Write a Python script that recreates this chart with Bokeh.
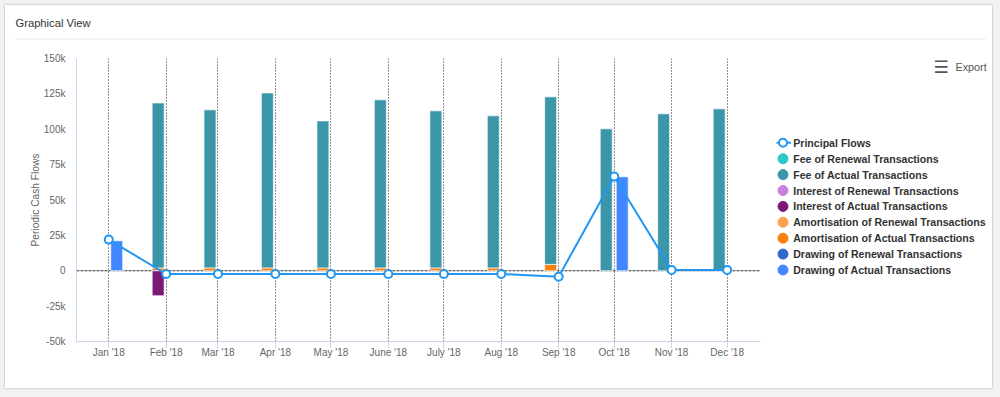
from datetime import datetime
import pandas as pd
from bokeh.plotting import figure
from bokeh.layouts import column, row
from bokeh.models import (FixedTicker, Range1d, Span, Spacer, GlobalInlineStyleSheet)
from bokeh.core.properties import value
from bokeh.embed import file_html
from bokeh.resources import INLINE

# ---------------- data ----------------
months = ["2018-01-01", "2018-02-01", "2018-03-01", "2018-04-01", "2018-05-01", "2018-06-01",
          "2018-07-01", "2018-08-01", "2018-09-01", "2018-10-01", "2018-11-01", "2018-12-01"]
month_labels = ["Jan '18", "Feb '18", "Mar '18", "Apr '18", "May '18", "June '18",
                "July '18", "Aug '18", "Sep '18", "Oct '18", "Nov '18", "Dec '18"]

principal_flows = [22000, -2300, -2300, -2300, -2300, -2300, -2300, -2300, -4300, 66600, 500, 500]
fee_renewal = [0, 0, 0, 0, 0, 0, 0, 0, 0, 0, 0, 0]
fee_actual = [0, 116600, 111700, 123700, 103900, 118800, 111000, 107500, 118400, 100300, 110900, 114400]
interest_renewal = [0, 0, 0, 0, 0, 0, 0, 0, 0, 0, 0, 0]
interest_actual = [0, -17700, 0, 0, 0, 0, 0, 0, 0, 0, 0, 0]
amort_renewal = [0, 0, 0, 0, 0, 0, 0, 0, 0, 0, 0, 0]
amort_actual = [0, 2000, 2000, 2000, 2000, 2000, 2000, 2000, 4500, 0, 0, 0]
drawing_renewal = [0, 0, 0, 0, 0, 0, 0, 0, 0, 0, 0, 0]
drawing_actual = [21200, 0, 0, 0, 0, 0, 0, 0, 0, 66400, 0, 0]

yticks = [-50000, -25000, 0, 25000, 50000, 75000, 100000, 125000, 150000]
ytick_labels = ["-50k", "-25k", "0", "25k", "50k", "75k", "100k", "125k", "150k"]

series_names = ["Principal Flows", "Fee of Renewal Transactions", "Fee of Actual Transactions",
                "Interest of Renewal Transactions", "Interest of Actual Transactions",
                "Amortisation of Renewal Transactions", "Amortisation of Actual Transactions",
                "Drawing of Renewal Transactions", "Drawing of Actual Transactions"]

chart_title = "Graphical View"
export_text = "Export"
y_title = "Periodic Cash Flows"

# ---------------- styles ----------------
C_PRINCIPAL = "#2196f3"
C_FEE_REN = "#2ec6c9"
C_FEE_ACT = "#3b96aa"
C_INT_REN = "#c97fdf"
C_INT_ACT = "#7b1a74"
C_AM_REN = "#ffa04e"
C_AM_ACT = "#fd7f0c"
C_DR_REN = "#3366cc"
C_DR_ACT = "#4287ff"
FONT = "Liberation Sans"

DAY = 86400000.0
PX_PER_DAY = 1.8515
OFFSET = 8 / PX_PER_DAY * DAY
BAR_W = 12 / PX_PER_DAY * DAY

dates = pd.to_datetime(months)
month_ms = [int(d.value // 10**6) for d in dates]


def bare(fig):
    fig.grid.visible = False
    fig.outline_line_color = None
    return fig


# ---------------- header ----------------
header = bare(figure(width=987, height=40, x_range=Range1d(0, 987), y_range=Range1d(40, 0),
                     output_backend="svg", toolbar_location=None, min_border=0,
                     x_axis_location=None, y_axis_location=None,
                     background_fill_color="white", border_fill_color="white"))
header.text(x=[10], y=[17.5], text=[chart_title], text_font=value(FONT),
            text_font_size="11.2px", text_color="#333333", text_baseline="middle")
header.segment(x0=[10], y0=[33.5], x1=[980], y1=[33.5], line_color="#e6e6e6", line_width=1)

# ---------------- chart ----------------
p = figure(width=763, height=343, x_axis_type="datetime",
           output_backend="svg", toolbar_location=None,
           x_range=Range1d(datetime(2017, 12, 14, 14), datetime(2018, 12, 19)),
           y_range=Range1d(-50000, 150000),
           min_border_left=71, min_border_right=8, min_border_top=13, min_border_bottom=47,
           background_fill_color="white", border_fill_color="white",
           outline_line_color=None)

p.add_layout(Span(location=0, dimension="width", line_color="#333333",
                  line_dash="3 1", line_width=1, level="underlay"))


def stack(series_list, colors, offset):
    base = [0.0] * len(month_ms)
    for vals, col in zip(series_list, colors):
        xs, bs, ts = [], [], []
        for i, v in enumerate(vals):
            if v != 0:
                xs.append(month_ms[i] + offset)
                if v > 0:
                    bs.append(base[i]); ts.append(base[i] + v)
                    base[i] += v
                else:
                    bs.append(0); ts.append(v)
        if xs:
            p.vbar(x=xs, bottom=bs, top=ts, width=BAR_W, fill_color=col,
                   line_color="white", line_width=1, line_alpha=0.7)


stack([amort_actual, amort_renewal, fee_actual, fee_renewal, interest_actual, interest_renewal],
      [C_AM_ACT, C_AM_REN, C_FEE_ACT, C_FEE_REN, C_INT_ACT, C_INT_REN], -OFFSET)
stack([drawing_actual, drawing_renewal], [C_DR_ACT, C_DR_REN], OFFSET)

p.line(x=dates, y=principal_flows, line_color=C_PRINCIPAL, line_width=2)
p.scatter(x=dates, y=principal_flows, marker="circle", size=8,
          fill_color="white", line_color=C_PRINCIPAL, line_width=2)

p.xaxis.ticker = FixedTicker(ticks=month_ms)
p.xaxis.major_label_overrides = {k: lab for k, lab in zip(month_ms, month_labels)}
p.xaxis.axis_line_color = "#ccd6eb"
p.xaxis.major_tick_line_color = "#ccd6eb"
p.xaxis.major_tick_out = 7
p.xaxis.major_tick_in = 0
p.xaxis.minor_tick_line_color = None
p.xaxis.major_label_standoff = -2
p.xaxis.major_label_text_font = FONT
p.xaxis.major_label_text_font_size = "10px"
p.xaxis.major_label_text_color = "#666666"

p.xgrid.ticker = FixedTicker(ticks=month_ms)
p.xgrid.grid_line_color = "#222222"
p.xgrid.grid_line_dash = "1 2"
p.ygrid.grid_line_color = None

p.yaxis.ticker = FixedTicker(ticks=yticks)
p.yaxis.major_label_overrides = {k: lab for k, lab in zip(yticks, ytick_labels)}
p.yaxis.axis_line_color = "#ccd6eb"
p.yaxis.major_tick_line_color = None
p.yaxis.minor_tick_line_color = None
p.yaxis.major_tick_out = 0
p.yaxis.major_tick_in = 0
p.yaxis.major_label_standoff = 11
p.yaxis.major_label_text_font = FONT
p.yaxis.major_label_text_font_size = "10px"
p.yaxis.major_label_text_color = "#666666"
p.yaxis.axis_label = y_title
p.yaxis.axis_label_text_font = FONT
p.yaxis.axis_label_text_font_style = "normal"
p.yaxis.axis_label_text_font_size = "10.2px"
p.yaxis.axis_label_text_color = "#666666"
p.yaxis.axis_label_standoff = 0

# ---------------- side (legend + export) ----------------
# side frame aligned with the chart frame: vertical coordinates are "card y" (page y - 45)
side = bare(figure(width=224, height=343, x_range=Range1d(0, 224), y_range=Range1d(296, 13),
                   output_backend="svg", toolbar_location=None,
                   min_border_left=0, min_border_right=0, min_border_top=13, min_border_bottom=47,
                   x_axis_location=None, y_axis_location=None,
                   background_fill_color="white", border_fill_color="white"))
legend_colors = [C_FEE_REN, C_FEE_ACT, C_INT_REN, C_INT_ACT, C_AM_REN, C_AM_ACT, C_DR_REN, C_DR_ACT]
leg_y = [97.3 + 15.9 * i for i in range(len(series_names))]
side.segment(x0=[8], y0=[leg_y[0]], x1=[22.5], y1=[leg_y[0]], line_color=C_PRINCIPAL, line_width=2)
side.scatter(x=[14.5], y=[leg_y[0]], marker="circle", size=8, fill_color="white",
             line_color=C_PRINCIPAL, line_width=2)
side.scatter(x=[14.5] * len(legend_colors), y=leg_y[1:], marker="circle", size=10,
             fill_color=legend_colors, line_color=legend_colors)
side.text(x=[24.7] * len(series_names), y=leg_y, text=series_names, text_font=value(FONT),
          text_font_size="10.6px", text_font_style="bold", text_color="#333333",
          text_baseline="middle")
side.text(x=[172.5], y=[21.5], text=["\u2630"], text_font=value("DejaVu Sans"),
          text_font_size="17px", text_font_style="bold", text_color="#555555",
          text_baseline="middle", text_align="center")
side.text(x=[187], y=[21.7], text=[export_text], text_font=value(FONT),
          text_font_size="10.8px", text_color="#555555", text_baseline="middle")

card = column(header, row(p, side), styles={"box-shadow": "0 0 2px rgba(0,0,0,0.35)",
                                             "background": "white"})
layout = column(Spacer(height=5), row(Spacer(width=5), card))
layout.stylesheets = [GlobalInlineStyleSheet(css="body{background:#f2f2f2;}")]

open("out.html", "w").write(file_html(layout, INLINE))
